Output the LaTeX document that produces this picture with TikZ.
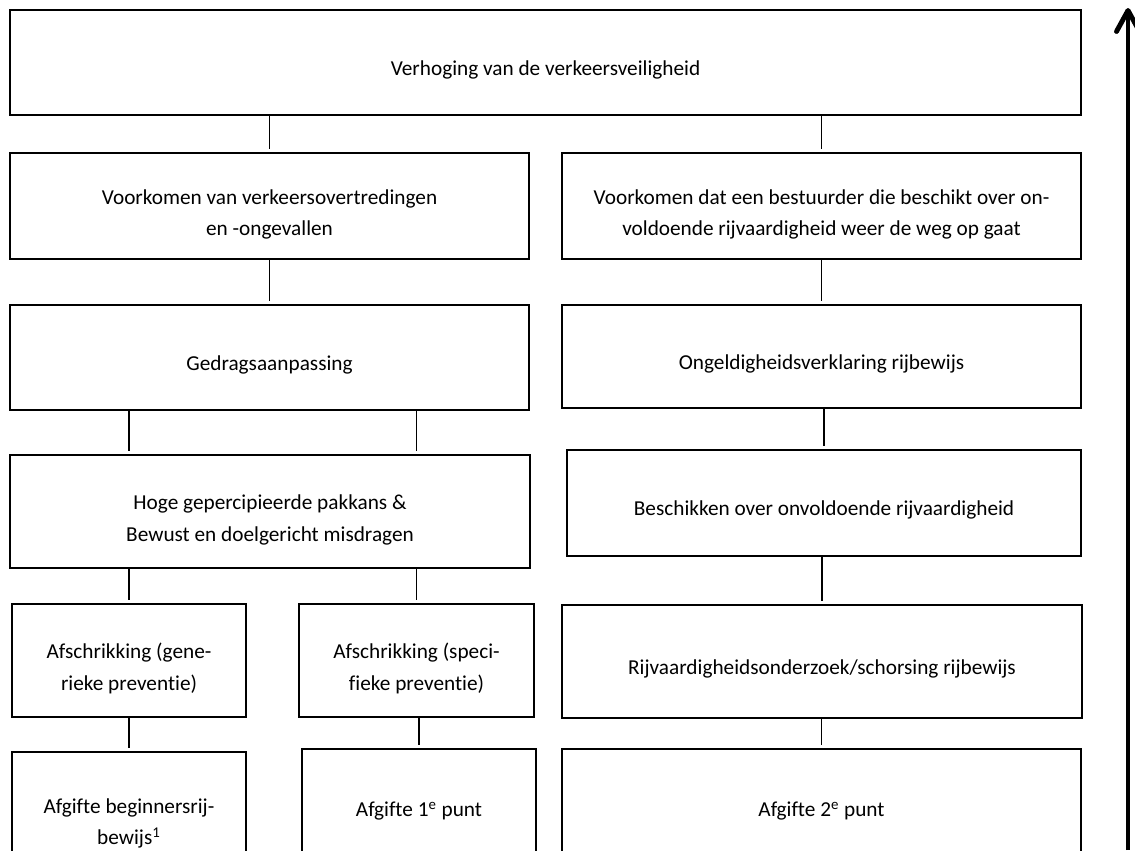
\documentclass[tikz,border=0pt]{standalone}
\usepackage{fontspec}
\setmainfont{Carlito}[Ligatures=NoCommon]
\usetikzlibrary{arrows.meta}

\tikzset{
    blok/.style={draw, line width=1.1pt, align=center, inner sep=0pt,
        font=\fontsize{12.1}{18}\selectfont,
        execute at begin node={\rule{0pt}{16.5pt}}},
    tweeregels/.style={execute at begin node={\rule{0pt}{36pt}}},
    lijn/.style={line width=0.6pt, shorten >=0.06cm}
}

\begin{document}
\begin{tikzpicture}
    % Fix the page to the size of the reference
    \clip (0,0) rectangle (22.70,-17.00);

    % Top goal
    \node[blok, minimum width=21.42cm, minimum height=2.10cm] (veiligheid) at (10.91,-1.25)
        {Verhoging van de verkeersveiligheid};

    % Left column
    \node[blok, tweeregels, minimum width=10.38cm, minimum height=2.12cm] (overtreding) at (5.39,-4.12)
        {Voorkomen van verkeersovertredingen\\en -ongevallen};
    \node[blok, minimum width=10.38cm, minimum height=2.10cm] (gedrag) at (5.39,-7.15)
        {Gedragsaanpassing};
    \node[blok, tweeregels, minimum width=10.40cm, minimum height=2.26cm] (pakkans) at (5.40,-10.23)
        {Hoge gepercipieerde pakkans \&\\Bewust en doelgericht misdragen};
    \node[blok, tweeregels, minimum width=4.68cm, minimum height=2.26cm] (generiek) at (2.58,-13.21)
        {Afschrikking (gene-\\rieke preventie)};
    \node[blok, tweeregels, minimum width=4.70cm, minimum height=2.26cm] (specifiek) at (8.33,-13.21)
        {Afschrikking (speci-\\fieke preventie)};
    \node[blok, tweeregels, minimum width=4.68cm, minimum height=2.52cm] (beginner) at (2.58,-16.30)
        {Afgifte beginnersrij-\\bewijs\textsuperscript{1}};
    \node[blok, minimum width=4.68cm, minimum height=2.20cm] (punteen) at (8.38,-16.08)
        {Afgifte 1\textsuperscript{e} punt};

    % Right column
    \node[blok, tweeregels, minimum width=10.38cm, minimum height=2.12cm] (rijvaardig) at (16.43,-4.12)
        {Voorkomen dat een bestuurder die beschikt over on-\\voldoende rijvaardigheid weer de weg op gaat};
    \node[blok, minimum width=10.38cm, minimum height=2.06cm] (ongeldig) at (16.43,-7.13)
        {Ongeldigheidsverklaring rijbewijs};
    \node[blok, minimum width=10.28cm, minimum height=2.12cm] (beschikken) at (16.48,-10.06)
        {Beschikken over onvoldoende rijvaardigheid};
    \node[blok, minimum width=10.40cm, minimum height=2.26cm] (onderzoek) at (16.44,-13.23)
        {Rijvaardigheidsonderzoek/schorsing rijbewijs};
    \node[blok, minimum width=10.38cm, minimum height=2.20cm] (punttwee) at (16.43,-16.08)
        {Afgifte 2\textsuperscript{e} punt};

    % Connecting lines
    \foreach \boven/\onder in {veiligheid/overtreding, veiligheid/rijvaardig,
        overtreding/gedrag, rijvaardig/ongeldig, ongeldig/beschikken,
        pakkans/generiek, pakkans/specifiek, beschikken/onderzoek,
        generiek/beginner, specifiek/punteen, onderzoek/punttwee} {
        \draw[lijn] (\boven.south -| \onder) -- (\onder.north);
    }
    \foreach \onder in {generiek, specifiek} {
        \draw[lijn] (gedrag.south -| \onder) -- (pakkans.north -| \onder);
    }

    % Arrow along the right side
    \coordinate (voet) at (22.56,-17.00);
    \coordinate (top) at (22.56,-0.16);
    \draw[line width=2.8pt, -{Straight Barb[round, length=0.42cm, width=0.46cm]}] (voet) -- (top);
\end{tikzpicture}
\end{document}
